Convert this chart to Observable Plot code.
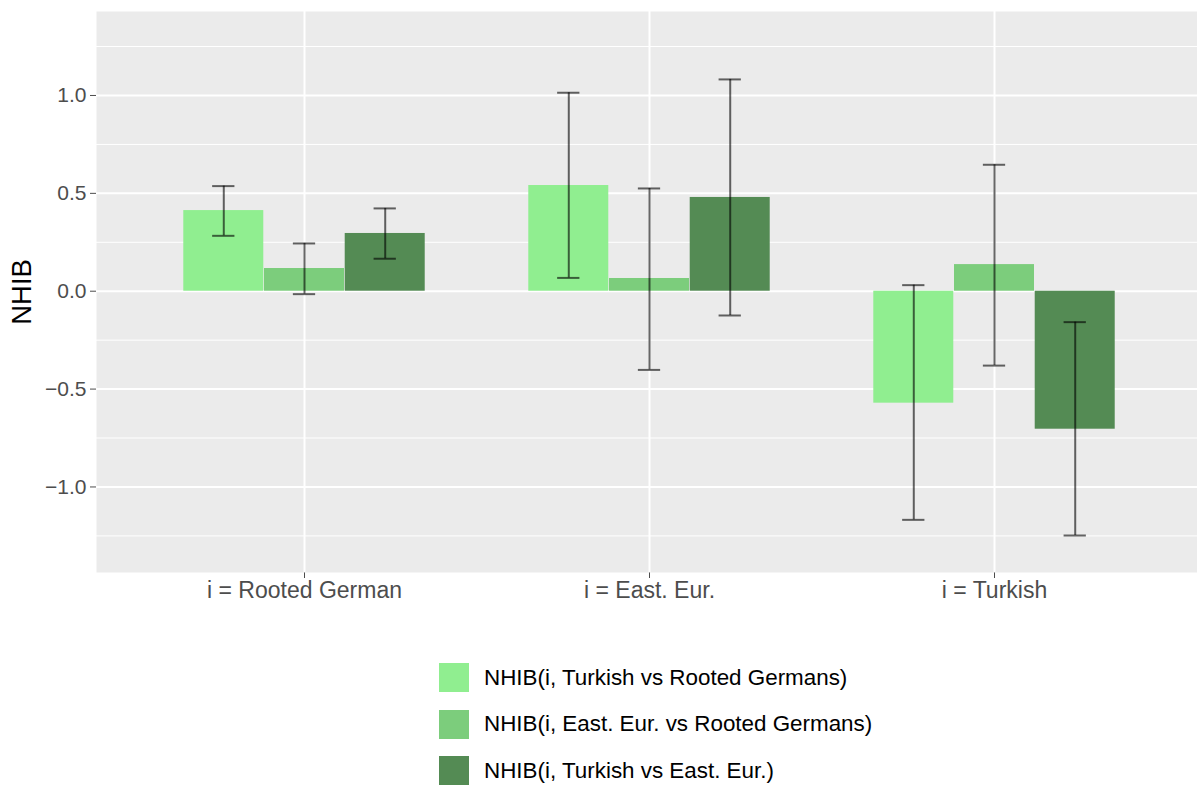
<!DOCTYPE html>
<html><head><meta charset="utf-8">
<script src="https://cdn.jsdelivr.net/npm/d3@7"></script>
<script src="https://cdn.jsdelivr.net/npm/@observablehq/plot@0.6"></script>
<style>
html,body{margin:0;padding:0;background:#fff;overflow:hidden;}
#wrap{position:relative;width:1197px;height:785px;overflow:hidden;font-family:"Liberation Sans",Arial,sans-serif;}
#chart{position:absolute;left:0;top:0;width:1203px;}
#chart svg{max-width:none !important;}
.legend{position:absolute;left:439px;top:663px;}
.item{display:flex;align-items:center;height:29px;margin-bottom:17.5px;}
.key{width:30px;height:29px;margin-right:15px;}
.lab{font-size:22.4px;color:#000;white-space:nowrap;}
</style></head><body><div id="wrap"><div id="chart"></div><div class="legend" id="legend"></div></div>
<script>
const groups = ["i = Rooted German", "i = East. Eur.", "i = Turkish"];
const seriesNames = [
  "NHIB(i, Turkish vs Rooted Germans)",
  "NHIB(i, East. Eur. vs Rooted Germans)",
  "NHIB(i, Turkish vs East. Eur.)"
];
const seriesColors = ["#90EE90", "#7CCD7C", "#548B54"];

const turkRootedEst  = [0.412, 0.540, -0.572];
const turkRootedLow  = [0.283, 0.068, -1.168];
const turkRootedHigh = [0.537, 1.014, 0.031];

const eastRootedEst  = [0.116, 0.065, 0.136];
const eastRootedLow  = [-0.015, -0.402, -0.380];
const eastRootedHigh = [0.244, 0.525, 0.646];

const turkEastEst  = [0.295, 0.479, -0.705];
const turkEastLow  = [0.166, -0.124, -1.248];
const turkEastHigh = [0.423, 1.082, -0.158];

const yMajorTicks = [-1, -0.5, 0, 0.5, 1];
const yMinorTicks = [-1.25, -0.75, -0.25, 0.25, 0.75, 1.25];
const yTickLabels = ["\u22121.0", "\u22120.5", "0.0", "0.5", "1.0"];

const seriesData = [
  [turkRootedEst, turkRootedLow, turkRootedHigh],
  [eastRootedEst, eastRootedLow, eastRootedHigh],
  [turkEastEst, turkEastLow, turkEastHigh]
];
const rows = [];
seriesData.forEach(([est, low, high], k) => {
  groups.forEach((g, i) => rows.push({group: g, series: seriesNames[k], k, est: est[i], low: low[i], high: high[i]}));
});

const W = 1203, ML = 96, MR = 0;
const step = (W - ML - MR) / 3.2;
const barW = step * 0.7 / 3;
const capHalf = 11.5;

const marks = [
  Plot.frame({fill: "#EBEBEB"}),
  Plot.ruleY(yMinorTicks, {stroke: "#fff", strokeWidth: 1}),
  Plot.ruleY(yMajorTicks, {stroke: "#fff", strokeWidth: 2}),
  Plot.ruleX(groups, {x: d => d, stroke: "#fff", strokeWidth: 2})
];
seriesNames.forEach((s, k) => {
  const data = rows.filter(r => r.k === k);
  const dx = (k - 1) * barW;
  marks.push(Plot.barY(data, {x: "group", y: "est", fill: "series", dx}));
});
seriesNames.forEach((s, k) => {
  const data = rows.filter(r => r.k === k);
  const dx = (k - 1) * barW;
  const st = {stroke: "#000", strokeOpacity: 0.6, strokeWidth: 2, dx};
  marks.push(Plot.ruleX(data, {x: "group", y1: "low", y2: "high", ...st}));
  marks.push(Plot.tickY(data, {x: "group", y: "low", insetLeft: barW / 2 - capHalf, insetRight: barW / 2 - capHalf, ...st}));
  marks.push(Plot.tickY(data, {x: "group", y: "high", insetLeft: barW / 2 - capHalf, insetRight: barW / 2 - capHalf, ...st}));
});
marks.push(Plot.text(["NHIB"], {frameAnchor: "left", textAnchor: "middle", lineAnchor: "middle", dx: -74, rotate: -90, fontSize: 27.5, fill: "#000", text: d => d}));

const chart = Plot.plot({
  width: W,
  height: 615,
  marginLeft: ML,
  marginRight: MR,
  marginTop: 11,
  marginBottom: 43,
  style: {fontFamily: "'Liberation Sans', Arial, sans-serif", fontSize: "21px", color: "#4D4D4D", background: "transparent", overflow: "visible", maxWidth: "none"},
  x: {type: "band", domain: groups, paddingInner: 1 - 0.7 / 3, paddingOuter: 0.48333, tickSize: 6, tickPadding: 3, label: null},
  y: {domain: [-1.437, 1.429], ticks: yMajorTicks, tickFormat: d => yTickLabels[yMajorTicks.indexOf(d)], tickSize: 6, tickPadding: 4, label: null},
  color: {domain: seriesNames, range: seriesColors},
  marks
});
chart.querySelectorAll("[aria-label='x-axis tick label'] text, [aria-label='x-axis tick label']").forEach(n => n.setAttribute("font-size", "23"));
document.getElementById("chart").appendChild(chart);

const legend = document.getElementById("legend");
seriesNames.forEach((s, k) => {
  const item = document.createElement("div");
  item.className = "item";
  const key = document.createElement("div");
  key.className = "key";
  key.style.background = seriesColors[k];
  const lab = document.createElement("span");
  lab.className = "lab";
  lab.textContent = s;
  item.appendChild(key);
  item.appendChild(lab);
  legend.appendChild(item);
});
</script></body></html>
